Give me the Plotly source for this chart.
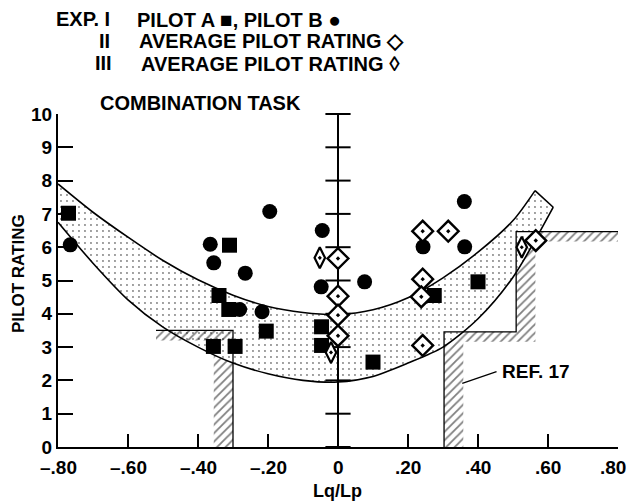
import plotly.graph_objects as go

# ---------------- data ----------------
pilot_a_x = [-0.77, -0.31, -0.34, -0.312, -0.205, -0.356, -0.294, -0.047, -0.047, 0.10, 0.275, 0.40]
pilot_a_y = [7.02, 6.06, 4.55, 4.13, 3.48, 3.02, 3.02, 3.61, 3.05, 2.55, 4.55, 4.96]

pilot_b_x = [-0.765, -0.365, -0.355, -0.265, -0.195, -0.217, -0.281, -0.045, -0.048, 0.076, 0.243, 0.362, 0.361]
pilot_b_y = [6.07, 6.09, 5.53, 5.22, 7.07, 4.06, 4.13, 6.50, 4.81, 4.96, 6.01, 6.01, 7.37]

exp2_x = [0.0, 0.0, 0.0, 0.0, 0.242, 0.315, 0.242, 0.238, 0.242, 0.565]
exp2_y = [5.66, 4.53, 3.96, 3.34, 6.48, 6.48, 5.04, 4.51, 3.05, 6.20]

exp3_x = [-0.052, -0.020, 0.525]
exp3_y = [5.68, 2.84, 6.00]

# band boundaries
band_upper_x = [-0.80, -0.70, -0.60, -0.50, -0.40, -0.30, -0.20, -0.10, 0.00, 0.10, 0.20, 0.30, 0.40, 0.50, 0.563]
band_upper_y = [7.90, 7.05, 6.30, 5.60, 5.02, 4.56, 4.22, 4.04, 3.98, 4.12, 4.48, 5.08, 5.85, 6.80, 7.70]
band_lower_x = [-0.80, -0.70, -0.60, -0.50, -0.40, -0.30, -0.20, -0.10, 0.00, 0.10, 0.20, 0.30, 0.40, 0.50, 0.615]
band_lower_y = [6.75, 5.52, 4.42, 3.60, 3.00, 2.52, 2.20, 2.00, 1.95, 2.12, 2.52, 3.00, 3.85, 5.10, 7.20]

# REF. 17 boundaries
ref_left_x = [-0.52, -0.30, -0.30]
ref_left_y = [3.50, 3.50, 0.00]
ref_right_x = [0.303, 0.303, 0.509, 0.509, 0.80]
ref_right_y = [0.00, 3.46, 3.46, 6.47, 6.47]
ref_leader_x = [0.355, 0.453]
ref_leader_y = [1.91, 2.26]
ref_label_pos = (0.463, 2.28)

x_ticks = [-0.8, -0.6, -0.4, -0.2, 0.0, 0.2, 0.4, 0.6, 0.8]
x_ticktext = ["\u2013.80", "\u2013.60", "\u2013.40", "\u2013.20", "0", ".20", ".40", ".60", ".80"]
y_ticks = list(range(0, 11))
y_ticktext = [str(v) for v in y_ticks]

# ---------------- styling ----------------
W, H = 629, 502
L, R, T, B = 58, 11, 114, 55
FONT = "Liberation Sans"
HX = 0.055   # hatch strip width (x units)
HY = 0.30    # hatch strip height (y units)

def px2paper(px, py):
    return (px - L) / (W - L - R), (H - B - py) / (H - T - B)

hatch = dict(shape="/", fgcolor="black", bgcolor="white", size=6, solidity=0.3)
hatch_t = dict(shape="/", fgcolor="black", size=6, solidity=0.3)

def rect(x0, x1, y0, y1):
    return [x0, x1, x1, x0, x0], [y0, y0, y1, y1, y0]

fig = go.Figure()

def add_hatch(x0, x1, y0, y1, pat):
    xs, ys = rect(x0, x1, y0, y1)
    fig.add_trace(go.Scatter(x=xs, y=ys, mode="lines", fill="toself",
                             fillcolor="rgba(255,255,255,0)",
                             fillpattern=pat, line=dict(width=0),
                             hoverinfo="skip", showlegend=False))

# right REF.17 hatching (under the band)
rx, ry = ref_right_x, ref_right_y
add_hatch(rx[0], rx[0] + HX, ry[0], ry[1], hatch)
add_hatch(rx[1], rx[2], ry[1] - HY, ry[1], hatch)
add_hatch(rx[2], rx[2] + HX, ry[2] - HY, ry[3], hatch)
add_hatch(rx[3], rx[4], ry[3] - HY, ry[3], hatch)
# left vertical strip (under the band)
lx, ly = ref_left_x, ref_left_y
add_hatch(lx[1] - HX, lx[1], ly[2], ly[1], hatch)

# stippled band
fig.add_trace(go.Scatter(x=band_lower_x, y=band_lower_y, mode="lines",
                         line=dict(color="black", width=1.6, shape="spline", smoothing=0.8),
                         hoverinfo="skip", showlegend=False))
fig.add_trace(go.Scatter(x=band_upper_x, y=band_upper_y, mode="lines", fill="tonexty",
                         fillcolor="white",
                         fillpattern=dict(shape=".", fgcolor="black", bgcolor="white",
                                          size=6, solidity=0.08),
                         line=dict(color="black", width=1.6, shape="spline", smoothing=0.8),
                         hoverinfo="skip", showlegend=False))
fig.add_trace(go.Scatter(x=[band_upper_x[-1], band_lower_x[-1]],
                         y=[band_upper_y[-1], band_lower_y[-1]], mode="lines",
                         line=dict(color="black", width=1.6),
                         hoverinfo="skip", showlegend=False))

# left horizontal strip (over the band)
add_hatch(lx[0], lx[1], ly[0] - HY, ly[0], hatch_t)

# REF. 17 boundary lines
for xs, ys in [(ref_left_x, ref_left_y), (ref_right_x, ref_right_y), (ref_leader_x, ref_leader_y)]:
    fig.add_trace(go.Scatter(x=xs, y=ys, mode="lines", line=dict(color="black", width=1.3),
                             hoverinfo="skip", showlegend=False))

# vertical axis line through Lq/Lp = 0 with cross ticks
fig.add_trace(go.Scatter(x=[0] * len(y_ticks), y=y_ticks, mode="lines+markers",
                         line=dict(color="black", width=2),
                         marker=dict(symbol="line-ew", size=18, line=dict(color="black", width=2)),
                         cliponaxis=False, hoverinfo="skip", showlegend=False))

# data markers
fig.add_trace(go.Scatter(x=pilot_a_x, y=pilot_a_y, mode="markers", name="Pilot A",
                         marker=dict(symbol="square", size=15, color="black"),
                         cliponaxis=False, showlegend=False))
fig.add_trace(go.Scatter(x=pilot_b_x, y=pilot_b_y, mode="markers", name="Pilot B",
                         marker=dict(symbol="circle", size=15, color="black"),
                         cliponaxis=False, showlegend=False))
fig.add_trace(go.Scatter(x=exp2_x, y=exp2_y, mode="markers", name="Exp II",
                         marker=dict(symbol="diamond-dot", size=16, color="white",
                                     line=dict(color="black", width=2.4)),
                         cliponaxis=False, showlegend=False))
fig.add_trace(go.Scatter(x=exp3_x, y=exp3_y, mode="markers", name="Exp III",
                         marker=dict(symbol="diamond-tall-dot", size=15, color="white",
                                     line=dict(color="black", width=2.2)),
                         cliponaxis=False, showlegend=False))

tf = dict(family=FONT, size=19, color="black", weight="bold")
fig.update_xaxes(range=[-0.8, 0.8], tickvals=x_ticks, showticklabels=False,
                 ticks="inside", ticklen=13, tickwidth=2, tickcolor="black",
                 showline=True, linewidth=2, linecolor="black", automargin=False,
                 showgrid=False, zeroline=False)
fig.update_yaxes(range=[0, 10], tickvals=y_ticks, ticktext=y_ticktext,
                 ticks="inside", ticklen=15, tickwidth=2, tickcolor="black",
                 showline=True, linewidth=2, linecolor="black", automargin=False,
                 showgrid=False, zeroline=False, tickfont=tf)

# x tick labels (last one kept inside the page edge)
for i, (v, t) in enumerate(zip(x_ticks, x_ticktext)):
    last = i == len(x_ticks) - 1
    fig.add_annotation(text=t, x=v, y=0, xref="x", yref="paper",
                       xanchor="right" if last else "center", yanchor="top",
                       xshift=10 if last else 0, yshift=-8, showarrow=False,
                       font=tf)

def ann(text, px, py, size=20, xanchor="left", angle=0):
    x, y = px2paper(px, py)
    fig.add_annotation(text=text, x=x, y=y, xref="paper", yref="paper",
                       xanchor=xanchor, yanchor="middle", showarrow=False, textangle=angle,
                       font=dict(family=FONT, size=size, color="black", weight="bold"))

SQ = "<span style='font-size:21px'>\u25A0</span>"
CI = "<span style='font-size:21px'>\u25CF</span>"
DI = "<span style='font-size:21px'>\u25C7</span>"
LZ = "<span style='font-size:21px'>\u25CA</span>"
ann("EXP. I", 112, 19, xanchor="right")
ann("PILOT A " + SQ + ", PILOT B " + CI, 135, 19)
ann("II", 112, 41, xanchor="right")
ann("AVERAGE PILOT RATING " + DI, 137, 41)
ann("III", 114, 63, xanchor="right")
ann("AVERAGE PILOT RATING " + LZ, 139, 63)
ann("COMBINATION TASK", 98, 103)
ann("PILOT RATING", 18, 274, size=17, xanchor="center", angle=-90)
ann("Lq/Lp", 337, 491, size=18, xanchor="center")
fig.add_annotation(text="REF. 17", x=ref_label_pos[0], y=ref_label_pos[1], xanchor="left",
                   yanchor="middle", showarrow=False,
                   font=dict(family=FONT, size=19, color="black", weight="bold"))

fig.update_layout(width=W, height=H, margin=dict(l=L, r=R, t=T, b=B, pad=0, autoexpand=False),
                  paper_bgcolor="white", plot_bgcolor="white", showlegend=False)

fig.write_html("out.html")
